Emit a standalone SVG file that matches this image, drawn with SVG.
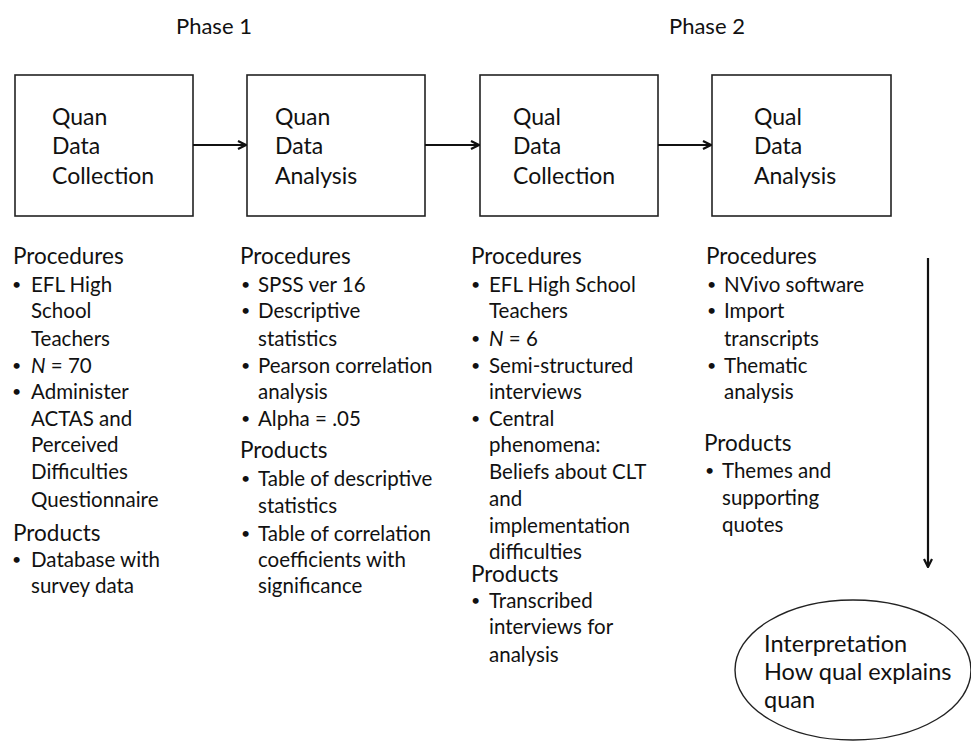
<svg xmlns="http://www.w3.org/2000/svg" width="971" height="742" viewBox="0 0 971 742">
<style>
text{font-family:Lato,"Open Sans","Liberation Sans",sans-serif;fill:#111;font-size:20.5px}
.h{font-size:22.5px}
.bx{font-size:23px}
.ph{font-size:22px}
.el{font-size:23.5px}
.b{font-size:16px}
.box{fill:#fff;stroke:#222;stroke-width:1.6}
.conn{stroke:#111;stroke-width:2.2;fill:none}
</style>
<defs>
<marker id="ah" viewBox="0 0 10 10" refX="9" refY="5" markerWidth="10" markerHeight="10" markerUnits="userSpaceOnUse" orient="auto">
<path d="M1,1 L9,5 L1,9" fill="none" stroke="#111" stroke-width="2.2"/>
</marker>
</defs>
<rect width="971" height="742" fill="#fff"/>
<g id="phase-labels">
<text class="ph" x="176" y="34">Phase 1</text>
<text class="ph" x="669" y="34">Phase 2</text>
</g>
<g id="node-quan-collection">
<rect class="box" x="15" y="75" width="178" height="141"/>
<text class="bx" x="52" y="125">Quan</text><text class="bx" x="52" y="154">Data</text><text class="bx" x="52" y="184">Collection</text>
</g>
<g id="node-quan-analysis">
<rect class="box" x="247" y="75" width="178" height="141"/>
<text class="bx" x="275" y="125">Quan</text><text class="bx" x="275" y="154">Data</text><text class="bx" x="275" y="184">Analysis</text>
</g>
<g id="node-qual-collection">
<rect class="box" x="480" y="75" width="178" height="141"/>
<text class="bx" x="513" y="125">Qual</text><text class="bx" x="513" y="154">Data</text><text class="bx" x="513" y="184">Collection</text>
</g>
<g id="node-qual-analysis">
<rect class="box" x="712" y="75" width="179" height="141"/>
<text class="bx" x="754" y="125">Qual</text><text class="bx" x="754" y="154">Data</text><text class="bx" x="754" y="184">Analysis</text>
</g>
<g id="connectors">
<line class="conn" x1="193" y1="145" x2="246" y2="145" marker-end="url(#ah)"/>
<line class="conn" x1="425" y1="145" x2="479" y2="145" marker-end="url(#ah)"/>
<line class="conn" x1="658" y1="145" x2="711" y2="145" marker-end="url(#ah)"/>
<line class="conn" x1="928" y1="258" x2="928" y2="567" marker-end="url(#ah)"/>
</g>
<g id="col-quan-collection">
<text class="h" x="13" y="264">Procedures</text>
<text class="b" x="12" y="290">•</text><text x="31" y="292">EFL High</text>
<text x="31" y="318">School</text>
<text x="31" y="346">Teachers</text>
<text class="b" x="12" y="371">•</text><text x="31" y="373"><tspan font-style="italic">N</tspan> = 70</text>
<text class="b" x="12" y="397">•</text><text x="31" y="399">Administer</text>
<text x="31" y="426">ACTAS and</text>
<text x="31" y="452">Perceived</text>
<text x="31" y="479">Difficulties</text>
<text x="31" y="507">Questionnaire</text>
<text class="h" x="13" y="541">Products</text>
<text class="b" x="12" y="565">•</text><text x="31" y="567">Database with</text>
<text x="31" y="593">survey data</text>
</g>
<g id="col-quan-analysis">
<text class="h" x="240" y="264">Procedures</text>
<text class="b" x="241" y="290">•</text><text x="258" y="292">SPSS ver 16</text>
<text class="b" x="241" y="316">•</text><text x="258" y="318">Descriptive</text>
<text x="258" y="346">statistics</text>
<text class="b" x="241" y="371">•</text><text x="258" y="373">Pearson correlation</text>
<text x="258" y="399">analysis</text>
<text class="b" x="241" y="424">•</text><text x="258" y="426">Alpha = .05</text>
<text class="h" x="240" y="458">Products</text>
<text class="b" x="241" y="484">•</text><text x="258" y="486">Table of descriptive</text>
<text x="258" y="513">statistics</text>
<text class="b" x="241" y="539">•</text><text x="258" y="541">Table of correlation</text>
<text x="258" y="567">coefficients with</text>
<text x="258" y="593">significance</text>
</g>
<g id="col-qual-collection">
<text class="h" x="471" y="264">Procedures</text>
<text class="b" x="471" y="290">•</text><text x="489" y="292">EFL High School</text>
<text x="489" y="318">Teachers</text>
<text class="b" x="471" y="344">•</text><text x="489" y="346"><tspan font-style="italic">N</tspan> = 6</text>
<text class="b" x="471" y="371">•</text><text x="489" y="373">Semi-structured</text>
<text x="489" y="399">interviews</text>
<text class="b" x="471" y="424">•</text><text x="489" y="426">Central</text>
<text x="489" y="452">phenomena:</text>
<text x="489" y="479">Beliefs about CLT</text>
<text x="489" y="506">and</text>
<text x="489" y="533">implementation</text>
<text x="489" y="559">difficulties</text>
<text class="h" x="471" y="582">Products</text>
<text class="b" x="471" y="606">•</text><text x="489" y="608">Transcribed</text>
<text x="489" y="634">interviews for</text>
<text x="489" y="662">analysis</text>
</g>
<g id="col-qual-analysis">
<text class="h" x="706" y="264">Procedures</text>
<text class="b" x="707" y="290">•</text><text x="724" y="292">NVivo software</text>
<text class="b" x="707" y="316">•</text><text x="724" y="318">Import</text>
<text x="724" y="346">transcripts</text>
<text class="b" x="707" y="371">•</text><text x="724" y="373">Thematic</text>
<text x="724" y="399">analysis</text>
<text class="h" x="704" y="451">Products</text>
<text class="b" x="705" y="476">•</text><text x="722" y="478">Themes and</text>
<text x="722" y="505">supporting</text>
<text x="722" y="532">quotes</text>
</g>
<g id="node-interpretation">
<ellipse cx="853" cy="670" rx="118" ry="70" fill="#fff" stroke="#222" stroke-width="1.4"/>
<text class="el" x="764" y="652">Interpretation</text>
<text class="el" x="764" y="680">How qual explains</text>
<text class="el" x="764" y="708">quan</text>
</g>
</svg>
